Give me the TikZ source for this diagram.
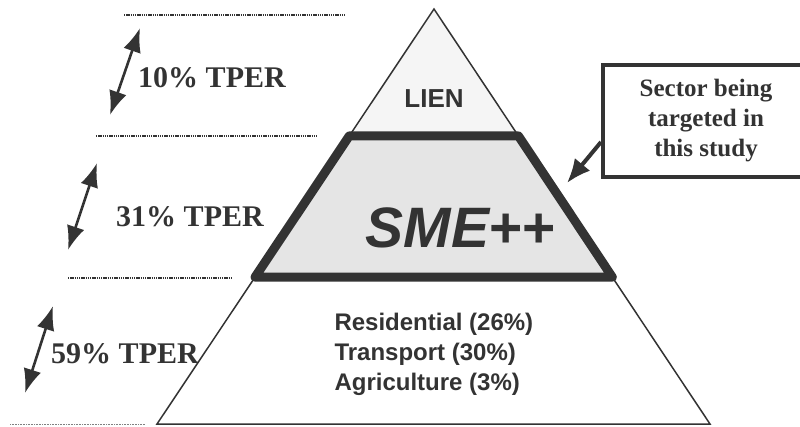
\documentclass[tikz,border=0pt]{standalone}
\usepackage{fontspec}
\setmainfont{Liberation Serif}
\setsansfont{Liberation Sans}
\usetikzlibrary{calc,arrows.meta}
\definecolor{ink}{HTML}{333333}
\begin{document}
\begin{tikzpicture}[x=1pt,y=-1pt,
share/.style={anchor=base,font=\bfseries\fontsize{30}{30}\selectfont,text=ink},
level/.style={ink,dash pattern=on 1.3pt off 0.9pt,line width=1.8pt},
span/.style={arrows={Latex[length=24pt,width=18pt]-Latex[length=24pt,width=18pt]},ink,line width=2.6pt},
layer/.style={draw=ink,line width=1.5pt},
]
\useasboundingbox (0,0) rectangle (800,426);

%pyramid
\coordinate (apex) at (434,9);
\coordinate (baseL) at (157,424);
\coordinate (baseR) at (710,424);
\coordinate (upL) at ($(apex)!0.306!(baseL)$);
\coordinate (upR) at ($(apex)!0.306!(baseR)$);
\coordinate (lowL) at ($(apex)!0.646!(baseL)$);
\coordinate (lowR) at ($(apex)!0.646!(baseR)$);
\filldraw[layer,fill=black!4](apex)--(upL)--(upR)--cycle;
\filldraw[layer,fill=white](lowL)--(baseL)--(baseR)--(lowR)--cycle;
\filldraw[fill=black!10,draw=ink,line width=9pt,line join=round](upL)--(upR)--(lowR)--(lowL)--cycle;

%layer texts
\node[anchor=base,font=\sffamily\bfseries\fontsize{26}{26}\selectfont,text=ink](lien)at(434,107){LIEN};
\node[anchor=base,font=\sffamily\bfseries\fontsize{57}{57}\selectfont,text=ink](sme)at(461,247){{\itshape SME}++};
\node[anchor=base west,align=left,font=\sffamily\bfseries\fontsize{24}{30}\selectfont,text=ink](rest)at(331,390){Residential (26\%)\\Transport (30\%)\\Agriculture (3\%)};

%levels
\draw[level](124,15)--(345,15);
\draw[level](96,136)--(317,136);
\draw[level](68,278)--(232,278);
\draw[gray,dash pattern=on 0.8pt off 0.8pt,line width=0.9pt](10,424)--(145,424);

%shares
\coordinate (topA) at (110,115);
\coordinate (topB) at (140,28);
\coordinate (midA) at (68,250);
\coordinate (midB) at (97,163);
\coordinate (lowA) at (25,393);
\coordinate (lowB) at (53,306);
\draw[span](topA)--(topB);
\draw[span](midA)--(midB);
\draw[span](lowA)--(lowB);
\node[share](topshare)at(212,87){10\% TPER};
\node[share](midshare)at(190,226){31\% TPER};
\node[share](lowshare)at(125,363){59\% TPER};

%callout
\node[draw=ink,line width=4pt,minimum width=206,minimum height=112,align=center,text=ink,
font=\bfseries\fontsize{25}{30}\selectfont](note)at(706,121){Sector being\\targeted in\\this study};
\coordinate (aim) at (567,183);
\draw[arrows={-Latex[length=24pt,width=20pt]},ink,line width=4pt]($(note.west)+(0,21)$)--(aim);
\end{tikzpicture}
\end{document}
